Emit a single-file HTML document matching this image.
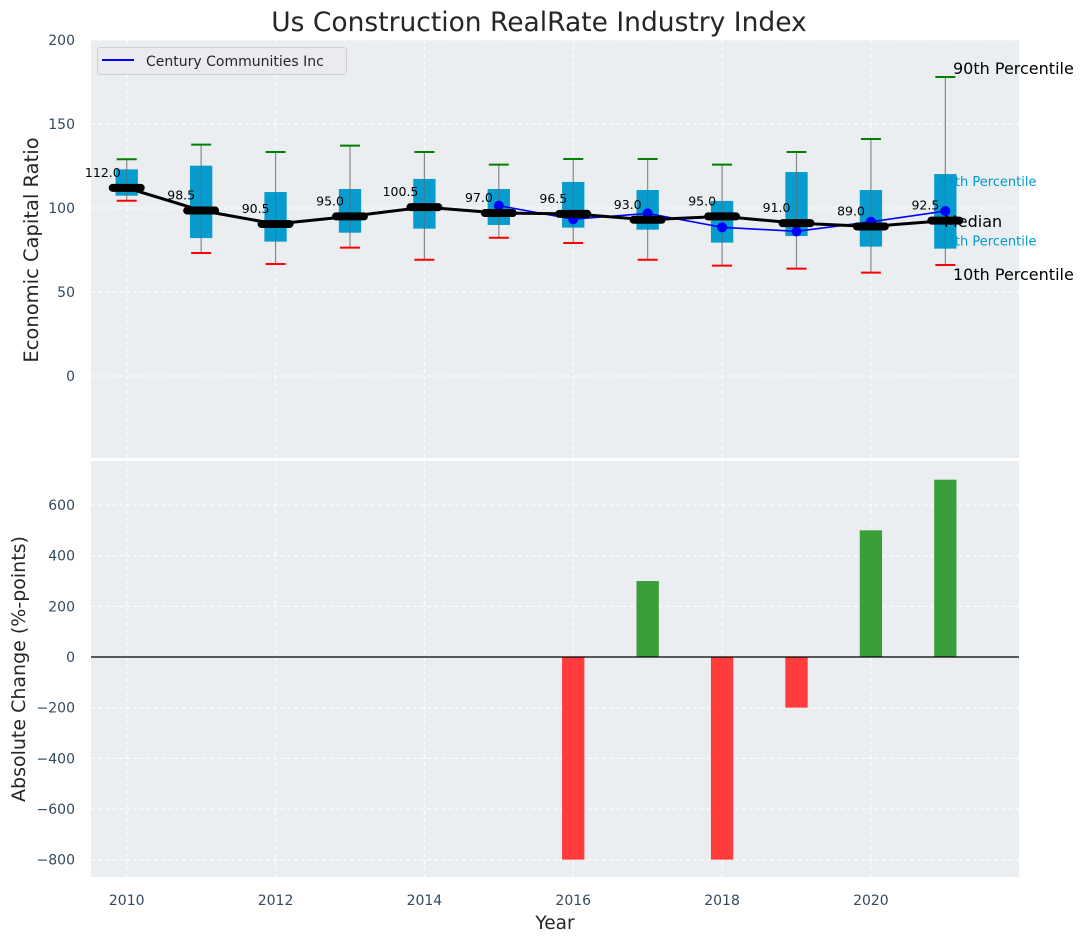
<!DOCTYPE html>
<html><head><meta charset="utf-8"><style>
body{margin:0;background:#fff;font-family:"DejaVu Sans","Liberation Sans",sans-serif;}
svg text{font-family:"DejaVu Sans","Liberation Sans",sans-serif;}
</style></head><body>
<svg id="c" width="1088" height="942" xmlns="http://www.w3.org/2000/svg"></svg>
<script>
const years=[2010,2011,2012,2013,2014,2015,2016,2017,2018,2019,2020,2021];
const medians=[112,98.5,90.5,95,100.5,97,96.5,93,95,91,89,92.5];
const q75=[123,125.2,109.5,111.3,117.3,111.3,115.5,110.7,104.2,121.4,110.7,120.2];
const q25=[107.3,82.1,80,85.3,87.7,89.9,88.3,87.1,79.4,83.3,77,75.8];
const p90=[129,137.7,133.3,137.1,133.3,125.8,129.2,129.2,125.8,133.3,141.1,178];
const p10=[104.3,73.2,66.7,76.4,69.2,82.3,79.2,69.2,65.7,63.9,61.5,66.1];
const companyYears=[2015,2016,2017,2018,2019,2020,2021];
const companyValues=[101.4,93.3,96.8,88.5,86.1,91.8,98.2];
const changes=[0,0,0,0,0,0,-800,300,-800,-200,500,700];
const topTicks=[0,50,100,150,200];
const botTicks=[-800,-600,-400,-200,0,200,400,600];
const xTicks=[2010,2012,2014,2016,2018,2020];

const L=91,R=1019;
const X=v=>L+(v-2009.52)*(R-L)/(2021.99-2009.52);
const Y1=v=>376-(v)*1.68;
const Y2=v=>657-v*0.2533;
const svg=document.getElementById('c');
const NS='http://www.w3.org/2000/svg';
function mk(tag,attrs,parent){const e=document.createElementNS(NS,tag);for(const k in attrs)e.setAttribute(k,attrs[k]);(parent||svg).appendChild(e);return e;}
function txt(s,attrs){const e=mk('text',attrs);e.textContent=s;return e;}

let p=mk('rect',{x:L,y:40,width:R-L,height:418,fill:'#eaeef0'});


p=mk('rect',{x:L,y:461,width:R-L,height:416,fill:'#eaeef0'});



xTicks.forEach(t=>{
  let g=mk('line',{x1:X(t),x2:X(t),y1:40,y2:458,stroke:'#fff','stroke-dasharray':'4,3','stroke-width':1});
  
  
  g=mk('line',{x1:X(t),x2:X(t),y1:461,y2:877,stroke:'#fff','stroke-dasharray':'4,3','stroke-width':1});
  
  
  const t2=txt(String(t),{x:X(t),y:905,'text-anchor':'middle','font-size':14,fill:'#34495e'});
  
  
});
topTicks.forEach(t=>{
  const g=mk('line',{x1:L,x2:R,y1:Y1(t),y2:Y1(t),stroke:'#fff','stroke-dasharray':'4,3','stroke-width':1});
  
  
  const l=txt(String(t),{x:75,y:Y1(t)+5,'text-anchor':'end','font-size':14,fill:'#34495e'});
  
  
});
botTicks.forEach(t=>{
  const g=mk('line',{x1:L,x2:R,y1:Y2(t),y2:Y2(t),stroke:'#fff','stroke-dasharray':'4,3','stroke-width':1});
  
  
  const l=txt(t<0?'\u2212'+(-t):String(t),{x:75,y:Y2(t)+5,'text-anchor':'end','font-size':14,fill:'#34495e'});
  
  
});

const last=years[years.length-1];
let a=txt('75th Percentile',{x:X(last)-7,y:Y1(q75[11])+12,'font-size':13,fill:'#0099cc'});


a=txt('25th Percentile',{x:X(last)-7,y:Y1(q25[11])-3,'font-size':13,fill:'#0099cc'});



const bw=X(2010.3)-X(2010);
years.forEach((yr,i)=>{
  const cx=X(yr);
  let w=mk('line',{x1:cx,x2:cx,y1:Y1(p90[i]),y2:Y1(p10[i]),stroke:'#888','stroke-width':1.2});
  
  
  let b=mk('rect',{x:cx-bw/2,y:Y1(q75[i]),width:bw,height:Y1(q25[i])-Y1(q75[i]),fill:'#0099cc','fill-opacity':0.97});
  
  
  let c=mk('line',{x1:cx-10,x2:cx+10,y1:Y1(p90[i]),y2:Y1(p90[i]),stroke:'green','stroke-width':2});
  
  
  c=mk('line',{x1:cx-10,x2:cx+10,y1:Y1(p10[i]),y2:Y1(p10[i]),stroke:'red','stroke-width':2});
  
  
  let v=mk('line',{x1:cx,x2:cx,y1:Y1(q75[i]),y2:Y1(q25[i]),stroke:'#666','stroke-width':1,'stroke-opacity':0.6});
  
  
});

let cp=companyYears.map((y,i)=>X(y)+','+Y1(companyValues[i])).join(' ');
let cl=mk('polyline',{points:cp,fill:'none',stroke:'blue','stroke-width':1.6});


companyYears.forEach((y,i)=>{
  const d=mk('circle',{cx:X(y),cy:Y1(companyValues[i]),r:5,fill:'blue'});
  
  
});

let mp=years.map((y,i)=>X(y)+','+Y1(medians[i])).join(' ');
let ml=mk('polyline',{points:mp,fill:'none',stroke:'#000','stroke-width':3});


years.forEach((y,i)=>{
  const m=mk('line',{x1:X(y)-14,x2:X(y)+14,y1:Y1(medians[i]),y2:Y1(medians[i]),stroke:'#000','stroke-width':8,'stroke-linecap':'round'});
  
  
  const t=txt(medians[i].toFixed(1),{x:X(y)-6,y:Y1(medians[i])-11,'text-anchor':'end','font-size':12.5,fill:'#000'});
  
  
});

a=txt('90th Percentile',{x:953,y:74,'font-size':16,fill:'#000'});


a=txt('Median',{x:944,y:227,'font-size':16,fill:'#000'});


a=txt('10th Percentile',{x:953,y:280,'font-size':16,fill:'#000'});



const barW=X(2010.3)-X(2010);
years.forEach((y,i)=>{
  const v=changes[i];
  if(v===0)return;
  const y0=Y2(Math.max(v,0)),h=Math.abs(Y2(v)-Y2(0));
  const b=mk('rect',{x:X(y)-barW/2,y:y0,width:barW,height:h,fill:v>0?'#3a9e3a':'#ff3b3b'});
  
  
});
let z=mk('line',{x1:L,x2:R,y1:Y2(0),y2:Y2(0),stroke:'#000','stroke-width':1.2});



let s=mk('line',{x1:L,x2:R,y1:459.5,y2:459.5,stroke:'#fff','stroke-width':3});



let lg=mk('g',{});


mk('rect',{x:97.5,y:47.5,width:249,height:27,rx:3,fill:'#eaeaf0',stroke:'#d0d0d0'},lg);
mk('line',{x1:102,x2:134,y1:60,y2:60,stroke:'blue','stroke-width':2},lg);
let lt=mk('text',{x:146,y:66,'font-size':14,fill:'#262626'},lg);lt.textContent='Century Communities Inc';

let t=txt('Us Construction RealRate Industry Index',{x:539,y:31,'text-anchor':'middle','font-size':26.5,fill:'#262626'});


t=txt('Year',{x:555,y:929,'text-anchor':'middle','font-size':18.5,fill:'#262626'});


t=txt('Economic Capital Ratio',{x:0,y:0,'text-anchor':'middle','font-size':19.5,fill:'#262626',transform:'translate(38,250) rotate(-90)'});


t=txt('Absolute Change (%-points)',{x:0,y:0,'text-anchor':'middle','font-size':19,fill:'#262626',transform:'translate(25,669) rotate(-90)'});


</script>
</body></html>
